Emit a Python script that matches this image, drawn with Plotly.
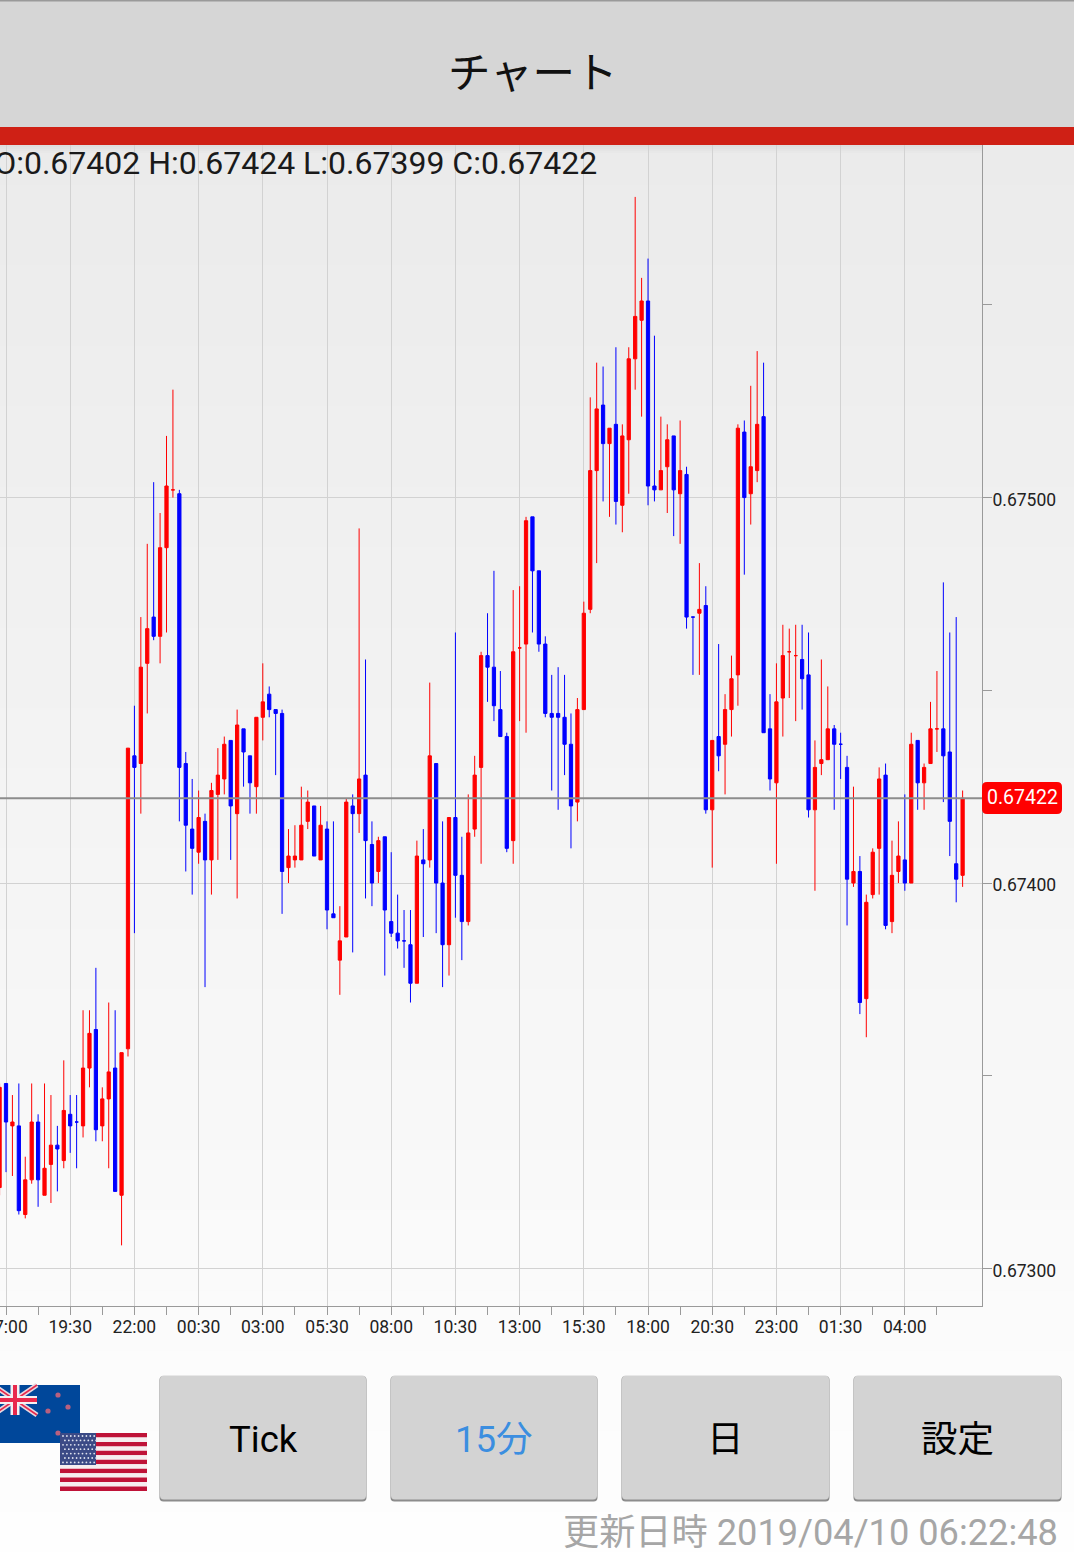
import plotly.graph_objects as go

# NZD/USD 15-minute candles, prices in 1e-5 units
opens = [67321,67348,67337,67337,67314,67323,67338,67319,67327,67332,
 67328,67340,67338,67337,67352,67362,67337,67344,67352,67319,
 67357,67433,67431,67457,67469,67464,67487,67502,67501,67431,
 67414,67408,67416,67406,67423,67427,67437,67418,67440,67433,
 67425,67443,67449,67445,67444,67404,67406,67406,67416,67420,
 67406,67414,67392,67380,67386,67420,67418,67428,67410,67403,
 67412,67390,67387,67385,67384,67374,67406,67406,67431,67400,
 67384,67417,67402,67390,67414,67430,67459,67456,67445,67438,
 67411,67461,67462,67495,67481,67462,67444,67444,67443,67436,
 67421,67445,67471,67507,67524,67514,67519,67498,67515,67536,
 67546,67551,67503,67502,67508,67516,67501,67506,67469,67470,
 67472,67419,67438,67436,67445,67454,67517,67501,67507,67521,
 67440,67426,67448,67460,67459,67458,67454,67419,67431,67432,
 67440,67436,67430,67400,67403,67370,67397,67409,67428,67390,
 67403,67406,67400,67437,67426,67431,67440,67440,67434,67405,67402]
highs = [67348,67348,67345,67348,67329,67348,67340,67348,67345,67337,
 67354,67345,67345,67367,67367,67378,67347,67369,67367,67356,
 67435,67446,67469,67488,67504,67496,67516,67528,67502,67434,
 67427,67424,67418,67426,67435,67438,67437,67445,67440,67433,
 67443,67457,67451,67445,67445,67414,67415,67425,67424,67420,
 67420,67416,67416,67394,67422,67423,67492,67458,67416,67412,
 67412,67408,67397,67393,67393,67411,67414,67452,67431,67416,
 67417,67465,67412,67423,67433,67460,67470,67481,67455,67439,
 67476,67477,67495,67495,67481,67464,67454,67456,67454,67444,
 67448,67473,67526,67535,67534,67518,67539,67519,67539,67578,
 67557,67562,67542,67521,67519,67516,67520,67508,67469,67483,
 67477,67437,67462,67449,67459,67519,67520,67529,67538,67535,
 67449,67457,67467,67466,67467,67467,67465,67437,67458,67451,
 67441,67439,67433,67425,67407,67397,67409,67430,67431,67411,
 67416,67423,67439,67437,67431,67447,67455,67478,67465,67469,67424]
lows = [67319,67325,67324,67314,67313,67322,67316,67319,67317,67320,
 67326,67330,67326,67334,67347,67333,67333,67326,67320,67306,
 67355,67387,67418,67444,67463,67457,67465,67500,67416,67403,
 67397,67405,67373,67397,67406,67423,67406,67396,67425,67418,
 67418,67437,67443,67428,67392,67400,67404,67406,67414,67407,
 67406,67388,67391,67371,67386,67382,67413,67396,67394,67400,
 67376,67386,67383,67378,67369,67374,67386,67404,67387,67373,
 67376,67391,67380,67389,67412,67405,67447,67442,67438,67408,
 67405,67442,67439,67465,67460,67443,67424,67419,67428,67409,
 67416,67445,67470,67483,67499,67495,67493,67491,67501,67528,
 67521,67498,67499,67502,67496,67490,67488,67466,67454,67454,
 67418,67404,67429,67423,67438,67446,67480,67493,67504,67439,
 67424,67405,67438,67448,67442,67445,67417,67398,67428,67432,
 67419,67427,67389,67399,67366,67360,67396,67397,67388,67387,
 67400,67398,67400,67419,67419,67431,67434,67421,67407,67395,67399]
closes = [67347,67338,67338,67315,67323,67338,67323,67326,67332,67331,
 67341,67337,67338,67352,67361,67336,67344,67351,67320,67356,
 67435,67430,67456,67466,67464,67487,67503,67502,67430,67415,
 67409,67417,67406,67424,67428,67436,67420,67441,67434,67426,
 67443,67447,67445,67444,67403,67407,67407,67415,67421,67407,
 67415,67393,67391,67385,67421,67418,67427,67411,67400,67411,
 67393,67387,67385,67385,67374,67407,67405,67433,67400,67384,
 67417,67402,67390,67413,67428,67459,67456,67446,67438,67409,
 67460,67461,67494,67481,67462,67444,67443,67443,67436,67420,
 67445,67470,67507,67523,67514,67518,67499,67516,67536,67547,
 67551,67503,67502,67507,67515,67502,67507,67469,67469,67471,
 67419,67437,67433,67445,67453,67518,67500,67508,67519,67439,
 67427,67447,67459,67460,67459,67453,67419,67430,67432,67440,
 67436,67436,67401,67403,67369,67395,67408,67427,67389,67402,
 67407,67400,67436,67426,67430,67440,67440,67433,67416,67401,67422]
doji_up = [27, 81, 123, 124, 146]

x_label_index = [1, 11, 21, 31, 41, 51, 61, 71, 81, 91, 101, 111, 121, 131, 141]
x_labels = ["17:00", "19:30", "22:00", "00:30", "03:00", "05:30", "08:00", "10:30",
            "13:00", "15:30", "18:00", "20:30", "23:00", "01:30", "04:00"]
x_minor_index = [6, 16, 26, 36, 46, 56, 66, 76, 86, 96, 106, 116, 126, 136, 146]
y_ticks = [0.673, 0.674, 0.675]
y_labels = ["0.67300", "0.67400", "0.67500"]
y_minor = [0.6735, 0.6745, 0.6755]
last_price = 0.67422
buttons = ["Tick", "15分", "日", "設定"]
ohlc_text = "O:0.67402 H:0.67424 L:0.67399 C:0.67422"

W, H = 1074, 1552
FONT = "Roboto, 'Noto Sans CJK JP', sans-serif"
RED, BLUE = "#ff0000", "#0000ff"
X_RANGE = [0.065, 153.02]
Y_RANGE = [0.6729027, 0.6759147]


def px(v): return v / W
def py(v): return 1 - v / H


shapes, annots = [], []


def rect(x0, y0, x1, y1, fill, layer="below"):
    shapes.append(dict(type="rect", xref="paper", yref="paper", x0=px(x0), x1=px(x1),
                       y0=py(y1), y1=py(y0), fillcolor=fill, line_width=0, layer=layer))


def rrect(x0, y0, x1, y1, r, fill, layer="below"):
    X0, X1, Y0, Y1 = px(x0), px(x1), py(y0), py(y1)
    rx, ry = r / W, r / H
    path = (f"M{X0+rx},{Y0} L{X1-rx},{Y0} Q{X1},{Y0} {X1},{Y0-ry} L{X1},{Y1+ry} Q{X1},{Y1} {X1-rx},{Y1} "
            f"L{X0+rx},{Y1} Q{X0},{Y1} {X0},{Y1+ry} L{X0},{Y0-ry} Q{X0},{Y0} {X0+rx},{Y0} Z")
    shapes.append(dict(type="path", xref="paper", yref="paper", path=path,
                       fillcolor=fill, line_width=0, layer=layer))


def dot(cx, cy, r, fill):
    shapes.append(dict(type="circle", xref="paper", yref="paper", x0=px(cx-r), x1=px(cx+r),
                       y0=py(cy+r), y1=py(cy-r), fillcolor=fill, line_width=0, layer="above"))


def seg(x0, y0, x1, y1, width, color):
    shapes.append(dict(type="line", xref="paper", yref="paper", x0=px(x0), x1=px(x1),
                       y0=py(y0), y1=py(y1), line=dict(color=color, width=width), layer="above"))


def text(x, y, s, size, color, anchor="center", weight=None):
    annots.append(dict(xref="paper", yref="paper", x=px(x), y=py(y), text=s, showarrow=False,
                       xanchor=anchor, yanchor="middle",
                       font=dict(family=FONT, size=size, color=color, weight=weight),
                       borderpad=0, borderwidth=0))


# page background gradient
steps = 70
for k in range(steps):
    y0 = 145 + (H - 145) * k / steps
    y1 = 145 + (H - 145) * (k + 1) / steps + 1
    v = round(235 + (254 - 235) * (k / (steps - 1)))
    rect(0, y0, W, y1, f"rgb({v},{v},{v})")
# header
rect(0, 0, W, 127, "#d6d6d6")
rect(0, 0, W, 1.5, "#9a9a9a")
for i, v in enumerate([222, 226, 229, 232]):
    rect(0, 145 + i * 2, 982, 147 + i * 2, f"rgb({v},{v},{v})")
rect(0, 127, W, 145, "#cf2015", layer="above")
text(533, 73.5, "チャート", 42.5, "#111111")

# buttons
button_edges = [(160, 366), (391, 597), (622, 829), (854, 1061)]
button_colors = ["#000000", "#3b8ee0", "#000000", "#000000"]
for (b0, b1), label, c in zip(button_edges, buttons, button_colors):
    rrect(b0 - 0.5, 1376, b1 + 0.5, 1501.5, 4, "#8c8c8c", layer="above")
    rrect(b0, 1375.5, b1, 1499.5, 4, "#d3d3d3", layer="above")
    text((b0 + b1) / 2, 1439.5, label, 36.5, c)

# NZ flag
NAVY = "#00479a"
rect(0, 1385, 80, 1443, NAVY, layer="above")
seg(-7, 1385, 37, 1415, 5, "#e9d9e0")
seg(37, 1385, -7, 1415, 5, "#e9d9e0")
seg(-7, 1385, 37, 1415, 1.6, "#e8294c")
seg(37, 1385, -7, 1415, 1.6, "#e8294c")
rect(0, 1396, 37, 1404, "#f4f0f2", layer="above")
rect(10.5, 1385, 19.5, 1415, "#f4f0f2", layer="above")
rect(0, 1398, 37, 1402, "#e8294c", layer="above")
rect(13, 1385, 17, 1415, "#e8294c", layer="above")
for sx, sy in [(58, 1395), (68, 1407), (48, 1411), (58, 1433)]:
    dot(sx, sy, 2.6, "#b8607f")
# US flag
stripe_h = 58 / 13
for k in range(13):
    rect(60, 1433 + k * stripe_h, 147, 1433 + (k + 1) * stripe_h,
         "#bf1338" if k % 2 == 0 else "#f6eef0", layer="above")
rect(60, 1433, 96, 1465, "#3b4a86", layer="above")
for r_i in range(7):
    for c_i in range(9):
        dot(63 + c_i * 3.9 + (r_i % 2) * 1.9, 1436 + r_i * 4.4, 0.9, "#dfe3ef")

# update time
text(1058, 1532.5, "更新日時 2019/04/10 06:22:48", 36.2, "#a6a6a6", anchor="right")

# price label
rrect(982, 782, 1062, 814, 5, "#ff0000", layer="above")
text(1022.5, 797.5, "0.67422", 19.5, "#ffffff")

# current price line
shapes.append(dict(type="line", xref="paper", yref="y", x0=0, x1=px(982), y0=last_price, y1=last_price,
                   line=dict(color="#8c8c8c", width=2), layer="above"))

idx = list(range(len(closes)))
is_up = [closes[i] > opens[i] or (closes[i] == opens[i] and i in doji_up) for i in idx]


def side(flag, color):
    sel = [i for i in idx if is_up[i] == flag]
    style = dict(line=dict(color=color, width=1), fillcolor=color)
    return go.Candlestick(x=sel,
                          open=[opens[i] / 1e5 for i in sel],
                          high=[highs[i] / 1e5 for i in sel],
                          low=[lows[i] / 1e5 for i in sel],
                          close=[closes[i] / 1e5 for i in sel],
                          increasing=style, decreasing=style,
                          showlegend=False, hoverinfo="skip")


# OHLC read-out: a clipped text trace, so that its first letter is cut by the plot edge
ohlc_trace = go.Scatter(x=[-0.85], y=[0.67586], mode="text", text=[ohlc_text],
                        textposition="middle right", cliponaxis=True, hoverinfo="skip", showlegend=False,
                        textfont=dict(family=FONT, size=32, color="#1a1a1a"))

fig = go.Figure([side(True, RED), side(False, BLUE), ohlc_trace])

axis_tick = dict(ticks="outside", tickcolor="#9a9a9a", tickwidth=1, showline=True, automargin=False,
                 linecolor="#9a9a9a", linewidth=1, gridcolor="#d2d2d2", gridwidth=1,
                 showgrid=True, zeroline=False, tickfont=dict(family=FONT, size=17.5, color="#222222"))
fig.update_layout(
    width=W, height=H, margin=dict(l=0, r=0, t=0, b=0), autosize=False,
    paper_bgcolor="#fbfbfb", plot_bgcolor="rgba(0,0,0,0)", showlegend=False,
    boxmode="overlay", boxgap=0.28,
    shapes=shapes, annotations=annots,
    xaxis=dict(domain=[0, 982 / W], range=X_RANGE, rangeslider=dict(visible=False),
               tickmode="array", tickvals=x_label_index, ticktext=x_labels, ticklen=8,
               ticklabeloverflow="allow", anchor="y", ticklabelstandoff=-3,
               minor=dict(tickmode="array", tickvals=x_minor_index, ticks="outside", ticklen=8,
                          tickcolor="#9a9a9a", tickwidth=1, showgrid=False),
               **axis_tick),
    yaxis=dict(domain=[1 - 1306 / H, 1 - 145 / H], range=Y_RANGE, side="right",
               tickmode="array", tickvals=y_ticks, ticktext=y_labels, ticklen=9, anchor="x",
               ticklabelstandoff=-3, ticklabelshift=2,
               minor=dict(tickmode="array", tickvals=y_minor, ticks="outside", ticklen=9,
                          tickcolor="#9a9a9a", tickwidth=1, showgrid=False),
               **axis_tick),
)

fig.write_html("out.html", config=dict(displayModeBar=False),
               post_script="document.body.style.margin='0';document.body.style.overflow='hidden';")
